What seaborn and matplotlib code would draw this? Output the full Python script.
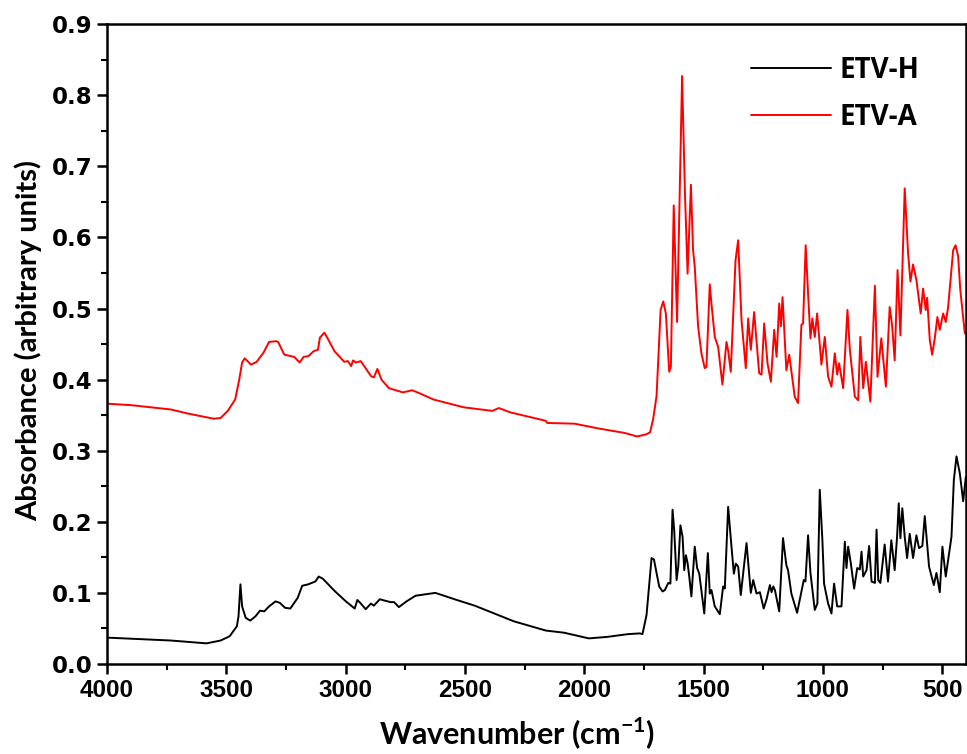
import numpy as np
import pandas as pd
import matplotlib
matplotlib.use("Agg")
import matplotlib.pyplot as plt
from matplotlib.ticker import MultipleLocator
import seaborn as sns

series_names = ["ETV-H", "ETV-A"]

etv_h_wn = [3996, 3733, 3583, 3524, 3486, 3456, 3449, 3441, 3434, 3419, 3400, 3378, 3359, 3341, 3321,
            3294, 3276, 3254, 3232, 3201, 3182, 3157, 3127, 3113, 3096, 3044, 2999, 2962, 2951, 2939,
            2916, 2894, 2882, 2857, 2835, 2812, 2797, 2777, 2745, 2707, 2624, 2534, 2459, 2385, 2295,
            2161, 2085, 1981, 1906, 1816,
            1767, 1756, 1739, 1718, 1708, 1697, 1686, 1672, 1662, 1648, 1639, 1630, 1623, 1613, 1606,
            1597, 1588, 1581, 1574, 1567, 1560, 1551, 1537, 1527, 1518, 1497, 1482, 1474, 1467, 1453,
            1432, 1418, 1411, 1397, 1383, 1373, 1365, 1355, 1344, 1320, 1302, 1292, 1278, 1264, 1248,
            1236, 1222, 1215, 1208, 1201, 1183, 1167, 1153, 1146, 1132, 1108, 1097, 1080, 1073, 1062,
            1052, 1034, 1023, 1013, 1002, 995, 978, 964, 953, 940, 922, 908, 901, 894, 883,
            869, 856, 845, 838, 831, 817, 806, 796, 782, 775, 768, 759, 741, 727, 713,
            699, 689, 682, 675, 667, 657, 647, 636, 622, 608, 597, 583, 573, 555, 535,
            524, 510, 499, 485, 475, 461, 451, 440, 426, 412, 401]
etv_h_abs = [0.037, 0.033, 0.029, 0.033, 0.039, 0.053, 0.067, 0.112, 0.081, 0.065, 0.061, 0.067, 0.075, 0.074, 0.081,
             0.088, 0.086, 0.079, 0.078, 0.093, 0.110, 0.112, 0.116, 0.123, 0.120, 0.102, 0.088, 0.078, 0.090, 0.086,
             0.077, 0.085, 0.082, 0.091, 0.089, 0.087, 0.087, 0.080, 0.088, 0.096, 0.100, 0.090, 0.082, 0.072, 0.060,
             0.047, 0.044, 0.036, 0.038, 0.042,
             0.043, 0.042, 0.069, 0.149, 0.147, 0.128, 0.109, 0.102, 0.104, 0.114, 0.113, 0.217, 0.188, 0.118, 0.137,
             0.195, 0.179, 0.132, 0.153, 0.142, 0.123, 0.095, 0.165, 0.135, 0.127, 0.071, 0.156, 0.099, 0.104, 0.081,
             0.070, 0.109, 0.106, 0.221, 0.165, 0.127, 0.141, 0.137, 0.097, 0.170, 0.100, 0.118, 0.099, 0.101, 0.078,
             0.091, 0.111, 0.101, 0.109, 0.104, 0.074, 0.177, 0.139, 0.132, 0.099, 0.072, 0.090, 0.118, 0.116, 0.181,
             0.128, 0.076, 0.085, 0.245, 0.174, 0.113, 0.085, 0.071, 0.113, 0.081, 0.081, 0.172, 0.135, 0.165, 0.142,
             0.106, 0.135, 0.133, 0.158, 0.123, 0.132, 0.166, 0.116, 0.114, 0.189, 0.118, 0.114, 0.168, 0.116, 0.174,
             0.132, 0.179, 0.226, 0.177, 0.219, 0.179, 0.149, 0.183, 0.149, 0.181, 0.163, 0.166, 0.208, 0.137, 0.111,
             0.128, 0.101, 0.165, 0.123, 0.146, 0.179, 0.259, 0.292, 0.268, 0.229, 0.263]

etv_a_wn = [3993, 3898, 3733, 3658, 3553, 3524, 3494, 3463, 3446, 3434, 3423, 3397, 3373, 3344, 3321,
            3291, 3283, 3257, 3216, 3193, 3176, 3156, 3134, 3116, 3108, 3089, 3074, 3047, 3006, 2991,
            2977, 2969, 2957, 2937, 2912, 2894, 2882, 2867, 2850, 2819, 2760, 2721, 2692, 2632, 2505,
            2385, 2358, 2311, 2161, 2155, 2041, 1936, 1831, 1779, 1740, 1724,
            1711, 1697, 1680, 1669, 1658, 1644, 1637, 1625, 1611, 1590, 1578, 1567, 1553, 1544, 1537,
            1523, 1509, 1495, 1488, 1474, 1467, 1453, 1439, 1421, 1404, 1397, 1386, 1366, 1355, 1341,
            1323, 1313, 1302, 1288, 1267, 1257, 1246, 1232, 1218, 1204, 1194, 1183, 1176, 1169, 1153,
            1141, 1118, 1104, 1090, 1083, 1072, 1062, 1052, 1044, 1034, 1024, 1006, 992, 978, 964,
            950, 940, 932, 915, 897, 887, 866, 852, 843, 831, 820, 801, 782, 771, 755,
            736, 720, 710, 699, 687, 675, 657, 643, 633, 622, 608, 590, 580, 569, 563,
            552, 542, 531, 520, 510, 496, 485, 475, 454, 444, 433, 424, 405]
etv_a_abs = [0.366, 0.364, 0.358, 0.352, 0.345, 0.346, 0.356, 0.372, 0.400, 0.424, 0.430, 0.421, 0.425, 0.438, 0.453,
             0.454, 0.453, 0.435, 0.432, 0.424, 0.432, 0.433, 0.440, 0.442, 0.459, 0.466, 0.457, 0.440, 0.425, 0.426,
             0.419, 0.427, 0.424, 0.426, 0.414, 0.405, 0.403, 0.415, 0.400, 0.388, 0.382, 0.385, 0.381, 0.372, 0.361,
             0.356, 0.360, 0.354, 0.342, 0.339, 0.338, 0.331, 0.325, 0.320, 0.323, 0.326,
             0.345, 0.377, 0.498, 0.510, 0.493, 0.411, 0.418, 0.645, 0.481, 0.827, 0.662, 0.549, 0.674, 0.582, 0.559,
             0.475, 0.437, 0.416, 0.418, 0.534, 0.507, 0.460, 0.446, 0.393, 0.453, 0.441, 0.411, 0.568, 0.596, 0.484,
             0.416, 0.486, 0.442, 0.495, 0.409, 0.407, 0.479, 0.423, 0.397, 0.470, 0.432, 0.507, 0.475, 0.516, 0.413,
             0.435, 0.376, 0.367, 0.477, 0.479, 0.589, 0.521, 0.458, 0.486, 0.460, 0.493, 0.421, 0.460, 0.404, 0.390,
             0.437, 0.407, 0.423, 0.388, 0.498, 0.442, 0.376, 0.371, 0.460, 0.388, 0.425, 0.369, 0.532, 0.404, 0.458,
             0.390, 0.502, 0.477, 0.427, 0.554, 0.462, 0.669, 0.578, 0.538, 0.562, 0.540, 0.493, 0.528, 0.498, 0.515,
             0.456, 0.435, 0.458, 0.488, 0.470, 0.493, 0.481, 0.502, 0.582, 0.589, 0.573, 0.526, 0.465]

x_ticks = [4000, 3500, 3000, 2500, 2000, 1500, 1000, 500]
y_ticks = [0.0, 0.1, 0.2, 0.3, 0.4, 0.5, 0.6, 0.7, 0.8, 0.9]

df = pd.concat([
    pd.DataFrame({"wn": etv_h_wn, "abs": etv_h_abs, "sample": series_names[0]}),
    pd.DataFrame({"wn": etv_a_wn, "abs": etv_a_abs, "sample": series_names[1]}),
], ignore_index=True)

sns.set_style("ticks")
plt.rcParams["font.family"] = ["Liberation Sans", "DejaVu Sans"]
for key in ["text.color", "axes.labelcolor", "xtick.color", "ytick.color", "axes.edgecolor"]:
    plt.rcParams[key] = "black"
plt.rcParams["mathtext.fontset"] = "custom"
plt.rcParams["mathtext.rm"] = "Lato"
plt.rcParams["mathtext.bf"] = "Lato:bold"

fig = plt.figure(figsize=(9.67, 7.54), dpi=100)
ax = fig.add_axes([0.1107, 0.1194, 0.8883, 0.8486])

sns.lineplot(data=df, x="wn", y="abs", hue="sample", palette={"ETV-H": "black", "ETV-A": "red"},
             estimator=None, sort=False, linewidth=1.4, ax=ax)

ax.set_xlim(4000, 400)
ax.set_ylim(0, 0.9)
ax.set_xticks(x_ticks)
ax.set_yticks(y_ticks)
ax.set_xticklabels([str(t) for t in x_ticks])
ax.set_yticklabels([f"{t:.1f}" for t in y_ticks])
ax.xaxis.set_minor_locator(MultipleLocator(250))
ax.yaxis.set_minor_locator(MultipleLocator(0.05))
ax.tick_params(axis="both", which="major", direction="out", length=7, width=1.8)
ax.tick_params(axis="both", which="minor", direction="out", length=4, width=1.5)
ax.tick_params(axis="x", labelsize=17.5)
for lab in ax.get_xticklabels():
    lab.set_fontweight("bold")
for lab in ax.get_yticklabels():
    lab.set_fontweight("bold")
    lab.set_family(["DejaVu Sans"])
    lab.set_fontsize(16.5)
for sp in ax.spines.values():
    sp.set_visible(True)
    sp.set_linewidth(1.8)

ax.set_xlabel("Wavenumber (cm$^{\\mathbf{-1}}$)", fontsize=22, fontweight="bold",
              family=["Lato", "DejaVu Sans"])
ax.set_ylabel("Absorbance (arbitrary units)", fontsize=21, fontweight="bold",
              family=["Lato", "DejaVu Sans"])
ax.xaxis.set_label_coords(0.477, -0.079)
ax.yaxis.set_label_coords(-0.076, 0.505)

leg = ax.legend(loc="upper right", frameon=False, handlelength=2.9, handletextpad=0.3,
                labelspacing=0.65, prop={"weight": "bold", "size": 20, "family": ["Open Sans", "DejaVu Sans"]},
                bbox_to_anchor=(0.975, 0.99))
for line in leg.get_lines():
    line.set_linewidth(1.4)

fig.savefig("out.png", dpi=100)
